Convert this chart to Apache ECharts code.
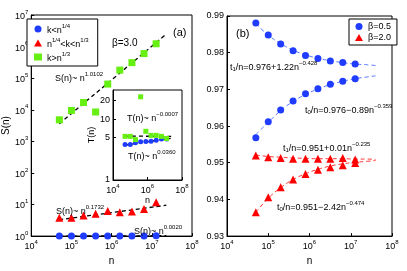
<!DOCTYPE html>
<html><head><meta charset="utf-8">
<script src="https://cdn.jsdelivr.net/npm/echarts@6/dist/echarts.min.js"></script>
<style>html,body{margin:0;padding:0;background:#fff}#c{width:407px;height:271px}</style>
</head><body><div id="c"></div>
<script>
// ---- data ----
const nVals = [5e4, 1e5, 2e5, 4e5, 8e5, 1.6e6, 3.2e6, 6.4e6, 1.28e7];
// panel (a) main
const sBlue  = [1, 1, 1, 1, 1, 1, 1, 1, 1.03];
const sRed   = [3.8, 3.8, 4.5, 5.1, 6.2, 5.7, 6.0, 7.2, 11.7];
const sGreen = [4800, 9500, 17000, 8500, 65000, 180000, 310000, 600000, 1230000];
const fitN     = [5e4, 2.3e7];
const fitBlue  = [1.0, 1.03];
const fitRed   = [3.3, 9.5];
const fitGreen = [3600, 2.5e6];
// panel (a) inset
const tGreen = [5.2, 5.2, 4.6, 23.2, 6.3, 5.4, 5.4, 5.2, 4.8];
const tBlue  = [3.83, 3.83, 4.08, 4.24, 4.29, 4.33, 4.5, 4.73, 4.73];
const insetFitN     = [5e4, 2.6e7];
const insetFitGreen = [5.25, 5.2];
const insetFitBlue  = [3.75, 4.85];
// panel (b)
const bUp = [0.9881, 0.9848, 0.9824, 0.9805, 0.9792, 0.9784, 0.9777, 0.9773, 0.9769];
const bLo = [0.9568, 0.9612, 0.9644, 0.9668, 0.9688, 0.9702, 0.9714, 0.9722, 0.9729];
const rUp = [0.9520, 0.9515, 0.9513, 0.9511, 0.9511, 0.9511, 0.9511, 0.9513, 0.9509];
const rLo = [0.9365, 0.9406, 0.9433, 0.9454, 0.9469, 0.9481, 0.9488, 0.9493, 0.9499];
const curveN = [5e4, 1e5, 2e5, 4e5, 8e5, 1.6e6, 3.2e6, 6.4e6, 1.28e7, 2.56e7, 4e7];
const fitBUp = [0.9879, 0.9848, 0.9825, 0.9807, 0.9794, 0.9785, 0.9778, 0.9773, 0.9769, 0.9767, 0.9765];
const fitBLo = [0.9577, 0.9610, 0.9642, 0.9667, 0.9686, 0.9701, 0.9713, 0.9722, 0.9729, 0.9734, 0.9737];
const fitRUp = [0.9521, 0.9517, 0.9515, 0.9513, 0.9512, 0.9511, 0.9511, 0.9511, 0.9510, 0.9510, 0.9509];
const fitRLo = [0.9365, 0.9403, 0.9432, 0.9454, 0.9470, 0.9482, 0.9491, 0.9497, 0.9501, 0.9504, 0.9506];
// ticks
const xDecades = [1e4, 1e5, 1e6, 1e7, 1e8];
const yDecades = [1, 10, 100, 1e3, 1e4, 1e5, 1e6, 1e7];
const insetXTicks = [1e4, 1e6, 1e8];
const insetYTicks = [1, 5, 10, 20];

const FONT = 'Liberation Sans, Arial, sans-serif';
const BLUE = '#1f3cff', RED = '#ff0000', GREEN = '#66f011';
const zip = (a, b) => a.map((v, i) => [v, b[i]]);
const rich = {
  b: {fontSize: 9, fontFamily: FONT, color: '#000', verticalAlign: 'bottom', lineHeight: 12},
  s: {fontSize: 6, fontFamily: FONT, color: '#000', verticalAlign: 'top'},
  u: {fontSize: 6, fontFamily: FONT, color: '#000', verticalAlign: 'bottom'}
};
const powFmt = v => '{b|10}{s|' + Math.round(Math.log10(v)) + '}';

function logAxis(gi, min, max, ticks, fmt, extra) {
  return Object.assign({
    type: 'log', logBase: 10, gridIndex: gi, min: min, max: max,
    axisLine: {show: true, onZero: false, lineStyle: {color: '#000', width: 1}},
    axisTick: {show: true, inside: true, length: 3, customValues: ticks, lineStyle: {color: '#000'}},
    axisLabel: {show: true, customValues: ticks, formatter: fmt, color: '#000', fontSize: 9, fontFamily: FONT, margin: 3, rich: rich},
    splitLine: {show: false}, minorTick: {show: false}
  }, extra || {});
}

const chart = echarts.init(document.getElementById('c'), null, {renderer: 'canvas'});
const line = (name, xi, yi, xs, ys, color, width, dash) => ({
  name: name, type: 'line', xAxisIndex: xi, yAxisIndex: yi, data: zip(xs, ys),
  symbol: 'none', smooth: true, silent: true, z: 3,
  lineStyle: {color: color, width: width, type: dash || [4, 3]}
});
const scat = (name, xi, yi, xs, ys, color, symbol, size) => ({
  name: name, type: 'scatter', xAxisIndex: xi, yAxisIndex: yi, data: zip(xs, ys),
  symbol: symbol, symbolSize: size, itemStyle: {color: color, opacity: 1}, z: 4
});

const legendNames = {
  k1: '{b|k<n}{s|1/4}',
  k2: '{b|n}{s|1/4}{b|<k<n}{s|1/3}',
  k3: '{b|k>n}{s|1/3}'
};

const txt = (x, y, text, size) => ({
  type: 'text', x: x, y: y, z: 100,
  style: {text: text, rich: rich, fill: '#000', font: (size || 9) + 'px ' + FONT}
});

chart.setOption({
  animation: false,
  backgroundColor: '#fff',
  grid: [
    {left: 27, top: 15, width: 165, height: 226, show: true, borderColor: '#000', borderWidth: 1, backgroundColor: 'transparent'},
    {left: 113, top: 90, width: 69, height: 90, show: true, borderColor: '#000', borderWidth: 1, backgroundColor: '#fff', z: 5},
    {left: 227, top: 16, width: 165, height: 226, show: true, borderColor: '#000', borderWidth: 1, backgroundColor: 'transparent'}
  ],
  xAxis: [
    logAxis(0, 1e4, 1e8, xDecades, powFmt, {name: 'n', nameLocation: 'middle', nameGap: 17, nameTextStyle: {fontSize: 10, fontFamily: FONT, color: '#000'}}),
    logAxis(1, 1e4, 1e8, insetXTicks, powFmt, {name: 'n', nameLocation: 'middle', nameGap: 15, nameTextStyle: {fontSize: 9, fontFamily: FONT, color: '#000'}, z: 6}),
    logAxis(2, 1e4, 1e8, xDecades, powFmt, {name: 'n', nameLocation: 'middle', nameGap: 17, nameTextStyle: {fontSize: 10, fontFamily: FONT, color: '#000'}})
  ],
  yAxis: [
    logAxis(0, 1, 1e7, yDecades, powFmt, {name: 'S(n)', nameLocation: 'middle', nameGap: 16, nameRotate: 90, nameTextStyle: {fontSize: 10, fontFamily: FONT, color: '#000'}}),
    logAxis(1, 1, 30, insetYTicks, v => String(Math.round(v)), {name: 'T(n)', nameLocation: 'middle', nameGap: 12, nameRotate: 90, nameTextStyle: {fontSize: 9, fontFamily: FONT, color: '#000'}, z: 6}),
    {
      type: 'value', gridIndex: 2, min: 0.93, max: 0.99, interval: 0.01,
      axisLine: {show: true, lineStyle: {color: '#000'}},
      axisTick: {show: true, inside: true, length: 3, lineStyle: {color: '#000'}},
      axisLabel: {color: '#000', fontSize: 9, fontFamily: FONT, margin: 3, formatter: v => v.toFixed(2)},
      splitLine: {show: false}
    }
  ],
  legend: [
    {
      data: ['k1', 'k2', 'k3'], orient: 'vertical', left: 27, top: 19,
      backgroundColor: '#fff', borderColor: '#000', borderWidth: 1, borderRadius: 0,
      padding: [4, 9, 3, 7], itemGap: 2, itemWidth: 8, itemHeight: 7,
      formatter: n => legendNames[n],
      textStyle: {fontSize: 9, fontFamily: FONT, color: '#000', rich: rich},
      selectedMode: false
    },
    {
      data: ['β=0.5', 'β=2.0'], orient: 'vertical', left: 349, top: 19,
      backgroundColor: '#fff', borderColor: '#000', borderWidth: 1, borderRadius: 0,
      padding: [3, 6, 3, 6], itemGap: 2, itemWidth: 8, itemHeight: 7,
      textStyle: {fontSize: 9, fontFamily: FONT, color: '#000'},
      selectedMode: false
    }
  ],
  series: [
    line('fg', 0, 0, fitN, fitGreen, '#000', 1.3),
    line('fr', 0, 0, fitN, fitRed, '#000', 1.3),
    line('fb', 0, 0, fitN, fitBlue, '#000', 1.3),
    scat('k1', 0, 0, nVals, sBlue, BLUE, 'circle', 7),
    scat('k2', 0, 0, nVals, sRed, RED, 'triangle', 8),
    scat('k3', 0, 0, nVals, sGreen, GREEN, 'rect', 7),
    Object.assign(line('ifg', 1, 1, insetFitN, insetFitGreen, '#000', 1.3), {z: 7}),
    Object.assign(line('ifb', 1, 1, insetFitN, insetFitBlue, '#000', 1.3), {z: 7}),
    Object.assign(scat('ib', 1, 1, nVals, tBlue, BLUE, 'circle', 5), {z: 8}),
    Object.assign(scat('ig', 1, 1, nVals, tGreen, GREEN, 'rect', 5), {z: 8}),
    line('fbu', 2, 2, curveN, fitBUp, '#5577ff', 1),
    line('fbl', 2, 2, curveN, fitBLo, '#5577ff', 1),
    line('fru', 2, 2, curveN, fitRUp, '#ff3333', 1),
    line('frl', 2, 2, curveN, fitRLo, '#ff3333', 1),
    scat('β=0.5', 2, 2, nVals, bUp, BLUE, 'circle', 7),
    scat('β=0.5', 2, 2, nVals, bLo, BLUE, 'circle', 7),
    scat('β=2.0', 2, 2, nVals, rUp, RED, 'triangle', 8),
    scat('β=2.0', 2, 2, nVals, rLo, RED, 'triangle', 8)
  ],
  graphic: [
    txt(173, 27, '(a)', 11),
    txt(112, 38, 'β=3.0', 10),
    txt(55, 71, '{b|S(n)~ n}{s|1.0102}'),
    txt(56, 204, '{b|S(n)~ n}{s|0.1732}'),
    txt(134, 224, '{b|S(n)~ n}{s|0.0020}'),
    Object.assign(txt(127, 111, '{b|T(n)~ n}{s|−0.0007}'), {z: 120}),
    Object.assign(txt(128, 149, '{b|T(n)~ n}{s|0.0360}'), {z: 120}),
    txt(236, 28, '(b)', 11),
    txt(230, 60, '{b|t}{u|1}{b|/n=0.976+1.22n}{s|−0.428}'),
    txt(305, 103, '{b|t}{u|0}{b|/n=0.976−0.89n}{s|−0.359}'),
    txt(283, 141, '{b|t}{u|1}{b|/n=0.951+0.01n}{s|−0.235}'),
    txt(277, 200, '{b|t}{u|0}{b|/n=0.951−2.42n}{s|−0.474}')
  ]
});
</script></body></html>
